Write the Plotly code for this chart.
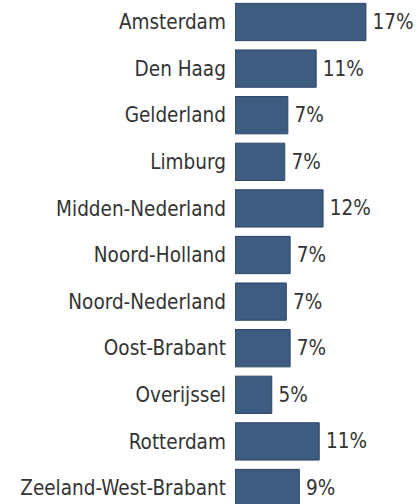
import plotly.graph_objects as go

categories = ["Amsterdam", "Den Haag", "Gelderland", "Limburg", "Midden-Nederland",
              "Noord-Holland", "Noord-Nederland", "Oost-Brabant", "Overijssel",
              "Rotterdam", "Zeeland-West-Brabant"]
values = [17.1, 10.6, 6.9, 6.5, 11.5, 7.2, 6.7, 7.2, 4.8, 11.0, 8.4]
labels = ["17%", "11%", "7%", "7%", "12%", "7%", "7%", "7%", "5%", "11%", "9%"]

FONT = "DejaVu Sans Condensed, DejaVu Sans"

fig = go.Figure(go.Bar(
    y=categories, x=values, orientation="h",
    text=["\u2009" + t for t in labels], textposition="outside", cliponaxis=False,
    marker=dict(color="#3d5c80", line=dict(color="#2c4566", width=1)),
    textfont=dict(family=FONT, size=20.5, color="#333333"),
))
fig.update_layout(
    width=418, height=504,
    margin=dict(l=235, r=0, t=0, b=0, autoexpand=False),
    paper_bgcolor="white", plot_bgcolor="white",
    bargap=0.2, showlegend=False,
    font=dict(family=FONT, size=20.5, color="#333333"),
    xaxis=dict(range=[0, 23.9], visible=False, automargin=False),
    yaxis=dict(range=[10.343, -0.472], showgrid=False, zeroline=False, showline=False,
               automargin=False,
               ticks="outside", ticklen=4, tickcolor="rgba(0,0,0,0)",
               tickfont=dict(family=FONT, size=20.5, color="#333333")),
)
fig.write_html("out.html", config={"displayModeBar": False},
               post_script="document.body.style.margin='0';document.body.style.padding='0';")
